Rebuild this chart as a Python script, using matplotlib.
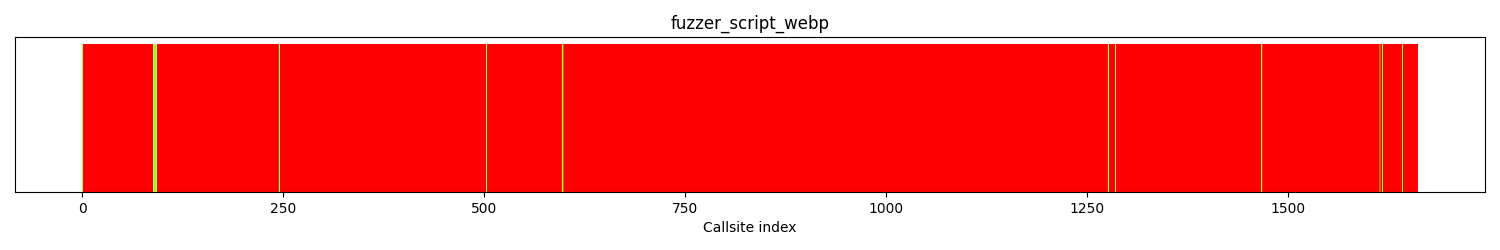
import numpy as np
import matplotlib
matplotlib.use("Agg")
import matplotlib.pyplot as plt

title = "fuzzer_script_webp"
n_callsites = 1662
hit_callsites = [0, 89, 90, 91, 92, 245, 503, 597, 598, 1276, 1285, 1467, 1614, 1617, 1642]

hits = np.zeros(n_callsites)
hits[hit_callsites] = 1
colors = np.where(hits > 0, "#7cfc00", "red")
x = np.arange(n_callsites)

fig = plt.figure(figsize=(15, 2.5), dpi=100)
ax = fig.add_axes([0.01, 0.232, 0.98, 0.62])
bars = ax.bar(x, np.ones(n_callsites), width=1.0, color=colors, linewidth=0)
for b, h in zip(bars, hits):
    if h > 0:
        b.set_snap(False)
        b.set_zorder(3)
ax.set_yticks([])
ax.set_xlabel("Callsite index")
ax.set_title(title)
fig.savefig("out.png")
